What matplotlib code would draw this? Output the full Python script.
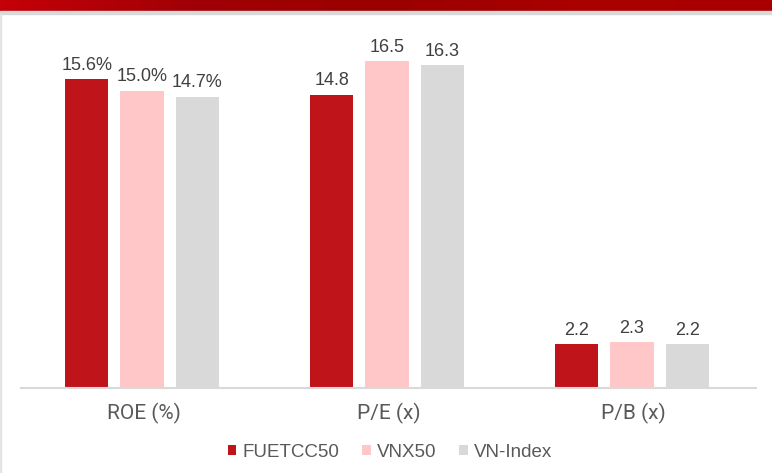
import numpy as np
import matplotlib.pyplot as plt
from matplotlib.patches import Rectangle
from matplotlib.colors import LinearSegmentedColormap

categories = ['ROE (%)', 'P/E (x)', 'P/B (x)']
series_names = ['FUETCC50', 'VNX50', 'VN-Index']
fuetcc50 = [15.6, 14.8, 2.2]
vnx50 = [15.0, 16.5, 2.3]
vnindex = [14.7, 16.3, 2.2]
label_fmt = [['15.6%', '14.8', '2.2'],
             ['15.0%', '16.5', '2.3'],
             ['14.7%', '16.3', '2.2']]

colors = ['#C0141B', '#FFC7C7', '#D9D9D9']
txt = '#404040'

fig = plt.figure(figsize=(7.72, 4.73), dpi=100)

# red header band + grey rule
band = fig.add_axes([0, 1 - 11 / 473, 1, 11 / 473])
cmap = LinearSegmentedColormap.from_list('band', ['#C40008', '#A00006', '#9A0000', '#AA0000', '#A80000'])
band.imshow(np.linspace(0, 1, 256)[None, :], aspect='auto', cmap=cmap)
band.axis('off')
fig.patches.append(Rectangle((0, 1 - 14 / 473), 1, 3 / 473, transform=fig.transFigure,
                             color='#D9D9D9', zorder=0))
fig.patches.append(Rectangle((0, 0), 1 / 772, 1 - 14 / 473, transform=fig.transFigure,
                             color='#E4E4E4', zorder=0))

ax = fig.add_axes([21 / 772, 1 - 388 / 473, 735 / 772, 17.5 * 19.8 / 473])
x = np.arange(len(categories)) - 0.006
w = 0.176
step = 0.225
for i, (vals, c) in enumerate(zip([fuetcc50, vnx50, vnindex], colors)):
    bars = ax.bar(x + (i - 1) * step, vals, w, color=c, label=series_names[i], zorder=2)
    ax.bar_label(bars, labels=label_fmt[i], padding=4, fontsize=13, color=txt,
                 family='Liberation Sans')

ax.set_xlim(-0.5, 2.5)
ax.set_ylim(0, 17.5)
ax.set_yticks([])
ax.set_xticks(np.arange(len(categories)))
ax.set_xticklabels(categories, fontsize=15, color='#595959',
                   family=['Liberation Sans Narrow', 'Roboto'])
ax.tick_params(axis='x', length=0, pad=11)
for s in ['top', 'right', 'left']:
    ax.spines[s].set_visible(False)
ax.spines['bottom'].set_color('#D9D9D9')
ax.spines['bottom'].set_linewidth(1.5)

handles, labels = ax.get_legend_handles_labels()
fig.legend(handles, labels, loc='center', bbox_to_anchor=(390 / 772, 1 - 452 / 473), ncol=3,
           frameon=False, handlelength=0.45, handleheight=0.45, handletextpad=0.35,
           columnspacing=1.2, prop={'family': 'Liberation Sans', 'size': 13.5},
           labelcolor='#595959')

fig.savefig('out.png', dpi=100)
